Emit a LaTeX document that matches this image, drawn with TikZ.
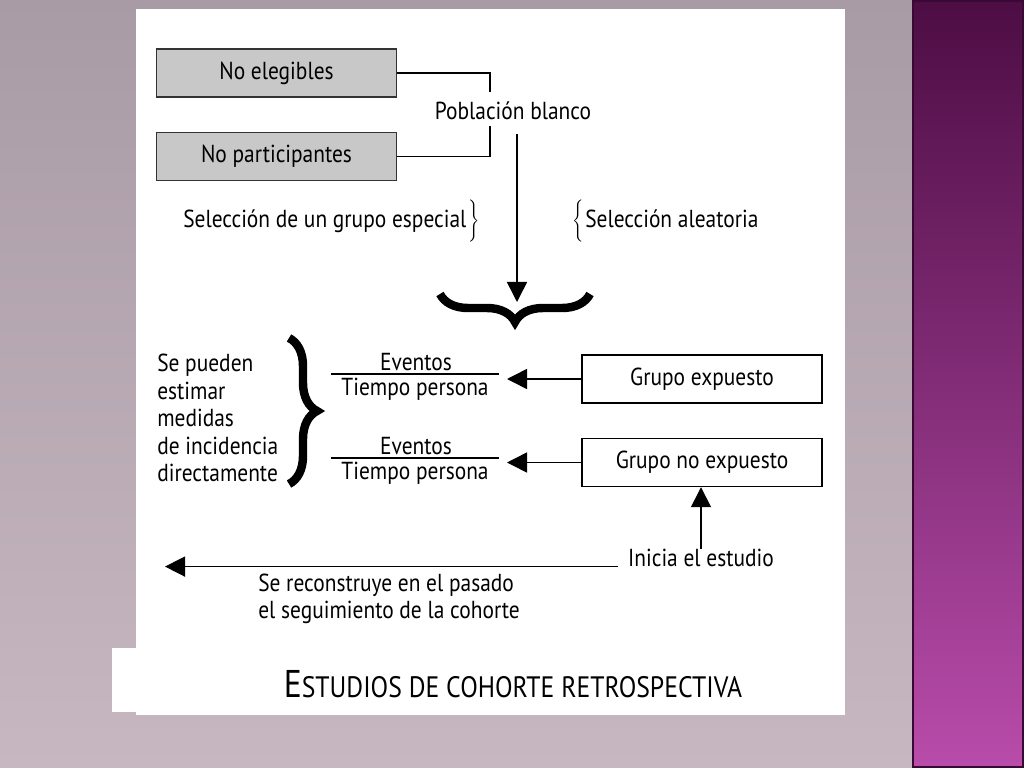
\documentclass[tikz,border=0pt]{standalone}
\usepackage{fontspec}
\setmainfont{PT Sans}[FakeStretch=0.87]
\usepackage{tikz}
\usetikzlibrary{arrows.meta}
\usetikzlibrary{decorations.pathreplacing}
\definecolor{bgtop}{HTML}{A99BA6}
\definecolor{bgbot}{HTML}{C6B7C0}
\definecolor{striptop}{HTML}{4D0D44}
\definecolor{stripbot}{HTML}{B84CAA}
\definecolor{stripedge}{HTML}{3A0834}
\definecolor{boxgray}{HTML}{C8C8C8}

\begin{document}
\begin{tikzpicture}[x=0.025cm, y=-0.025cm,
    every node/.style={font=\fontsize{17.5}{19.6}\selectfont, inner sep=0pt},
    grisbox/.style={draw=black!80, line width=1pt, fill=boxgray, minimum width=6cm, minimum height=1.2cm},
    grupobox/.style={draw=black, line width=1pt, fill=white, minimum width=6cm, minimum height=1.2cm},
    flecha/.style={line width=1.1pt, -{Triangle[length=5mm, width=5mm]}},
    llave/.style={line width=6pt, decorate, decoration={brace, amplitude=0.7cm}}]
                % fondo
                \useasboundingbox (0,0) rectangle (1024,768);
                \shade [top color=bgtop, bottom color=bgbot] (0,0) rectangle (912,768);
                \fill [white] (136,9) rectangle (845,715);
                \fill [white] (112,648) rectangle (300,712);
                \shade [top color=striptop, bottom color=stripbot] (912,0) rectangle (1024,768);
                \draw [stripedge, line width=1.5pt] (913,1) rectangle (1023,767);
                % poblacion
                \node [grisbox] (noeleg) at (276.5, 73) {No elegibles};
                \node [grisbox] (nopart) at (276.5, 156.5) {No participantes};
                \node (pobl) at (513, 111) {Población blanco};
                \coordinate (c1) at (490, 92);
                \coordinate (c2) at (490, 126);
                \draw [line width=1pt] (noeleg.east) -| (c1);
                \draw [line width=1pt] (nopart.east) -| (c2);
                \coordinate (c3) at (517, 134);
                \coordinate (c4) at (517, 302);
                \draw [flecha] (c3) -- (c4);
                \node [anchor=west] (selesp) at (183, 222) {Selección de un grupo especial$\left.\rule[-0.4cm]{0pt}{0.95cm}\right\}$};
                \node [anchor=west] (selale) at (572, 222) {$\left\{\rule[-0.4cm]{0pt}{0.95cm}\right.$Selección aleatoria};
                \draw [llave] (590, 294) -- (440, 294);
                % medidas
                \node [anchor=west, align=left] (medidas) at (157, 418) {Se pueden\\estimar\\medidas\\de incidencia\\directamente};
                \draw [llave] (289, 338) -- (289, 484);
                \node (ev1) at (416, 362) {Eventos};
                \node (tp1) at (415, 389) {Tiempo persona};
                \draw [line width=1pt] (331, 374) -- (499, 374);
                \node (ev2) at (416, 446) {Eventos};
                \node (tp2) at (415, 473) {Tiempo persona};
                \draw [line width=1pt] (331, 458) -- (499, 458);
                % grupos
                \node [grupobox] (gexp) at (702, 379) {Grupo expuesto};
                \node [grupobox] (gnoexp) at (702, 462.5) {Grupo no expuesto};
                \coordinate (f1) at (507, 376);
                \draw [flecha] (gexp.west) -- (gexp.west -| f1);
                \draw [flecha] (gnoexp.west) -- (gnoexp.west -| f1);
                % estudio
                \node (inicia) at (701, 558) {Inicia el estudio};
                \coordinate (pasado) at (165, 562);
                \draw [flecha] (inicia.north) -- (inicia.north |- gnoexp.south);
                \draw [flecha] ([xshift=-0.25cm]inicia.base west) -- (inicia.base west -| pasado);
                \node [anchor=west, align=left] (reconst) at (258, 599) {Se reconstruye en el pasado\\el seguimiento de la cohorte};
                \node (titulo) at (513, 684) {{\fontsize{27.5}{27.5}\selectfont E}{\fontsize{21}{27.5}\selectfont STUDIOS DE COHORTE RETROSPECTIVA}};
\end{tikzpicture}
\end{document}
